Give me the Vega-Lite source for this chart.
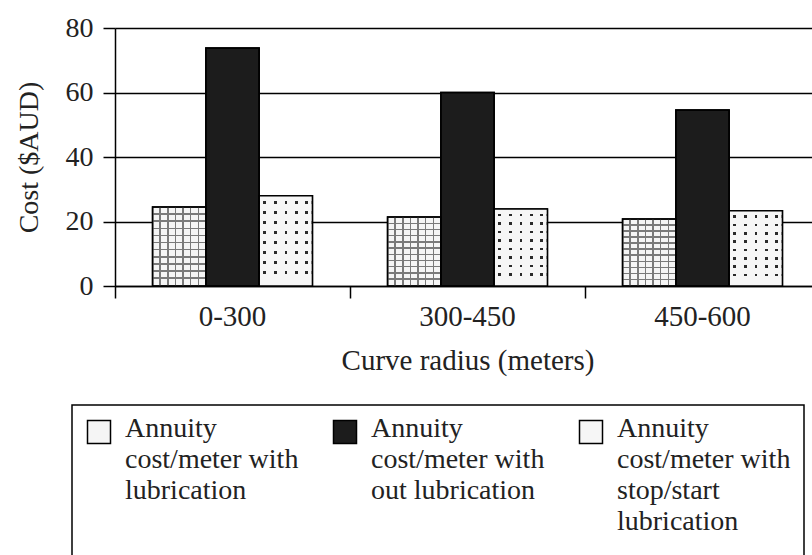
{
  "$schema": "https://vega.github.io/schema/vega-lite/v6.json",
  "autosize": "none",
  "padding": {"left": 115, "top": 28, "right": 0, "bottom": 270},
  "width": 705,
  "height": 258,
  "config": {
    "view": {"stroke": null},
    "font": "Liberation Serif",
    "axis": {
      "labelFont": "Liberation Serif",
      "titleFont": "Liberation Serif",
      "labelColor": "#222",
      "titleColor": "#222",
      "titleFontWeight": "normal",
      "domainColor": "black",
      "domainWidth": 1.5,
      "tickColor": "black",
      "tickWidth": 1.5,
      "tickSize": 12
    },
    "legend": {
      "labelFont": "Liberation Serif"
    }
  },
  "data": {
    "values": [
      {"radius": "0-300", "series": "Annuity|cost/meter with|lubrication", "cost": 24.5},
      {"radius": "0-300", "series": "Annuity|cost/meter with|out lubrication", "cost": 73.8},
      {"radius": "0-300", "series": "Annuity|cost/meter with|stop/start|lubrication", "cost": 28.0},
      {"radius": "300-450", "series": "Annuity|cost/meter with|lubrication", "cost": 21.4},
      {"radius": "300-450", "series": "Annuity|cost/meter with|out lubrication", "cost": 60.0},
      {"radius": "300-450", "series": "Annuity|cost/meter with|stop/start|lubrication", "cost": 23.9},
      {"radius": "450-600", "series": "Annuity|cost/meter with|lubrication", "cost": 20.8},
      {"radius": "450-600", "series": "Annuity|cost/meter with|out lubrication", "cost": 54.6},
      {"radius": "450-600", "series": "Annuity|cost/meter with|stop/start|lubrication", "cost": 23.3}
    ]
  },
  "encoding": {
    "x": {
      "field": "radius",
      "type": "nominal",
      "sort": ["0-300", "300-450", "450-600"],
      "scale": {"paddingInner": 0, "paddingOuter": 0},
      "axis": {
        "title": "Curve radius (meters)",
        "labelAngle": 0,
        "labelFontSize": 29,
        "titleFontSize": 29,
        "labelPadding": 4,
        "titlePadding": 15,
        "bandPosition": 0,
        "grid": false
      }
    },
    "xOffset": {
      "field": "series",
      "type": "nominal",
      "sort": ["Annuity|cost/meter with|lubrication", "Annuity|cost/meter with|out lubrication", "Annuity|cost/meter with|stop/start|lubrication"],
      "scale": {"paddingInner": 0, "paddingOuter": 0.705}
    },
    "y": {
      "field": "cost",
      "type": "quantitative",
      "scale": {"domain": [0, 80], "nice": false},
      "axis": {
        "title": "Cost ($AUD)",
        "values": [0, 20, 40, 60, 80],
        "labelFontSize": 28,
        "titleFontSize": 28,
        "labelPadding": 10,
        "titlePadding": 22,
        "grid": true,
        "gridColor": "black",
        "gridWidth": 1.5,
        "gridOpacity": 1
      }
    }
  },
  "layer": [
    {
      "mark": {"type": "bar", "stroke": "black", "strokeWidth": 1.5, "opacity": 1},
      "encoding": {
        "color": {
          "field": "series",
          "type": "nominal",
          "sort": ["Annuity|cost/meter with|lubrication", "Annuity|cost/meter with|out lubrication", "Annuity|cost/meter with|stop/start|lubrication"],
          "scale": {"range": ["#f5f5f5", "#1c1c1c", "#f6f6f6"]},
          "legend": {
            "title": null,
            "orient": "none",
            "legendX": -43,
            "legendY": 377,
            "direction": "horizontal",
            "columns": 3,
            "columnPadding": 31,
            "padding": 13,
            "strokeColor": "black",
            "symbolType": "square",
            "symbolSize": 529,
            "symbolStrokeColor": "black",
            "symbolStrokeWidth": 1.5,
            "symbolOpacity": 1,
            "labelFontSize": 28,
            "labelColor": "#222",
            "labelOffset": 12,
            "labelLimit": 500,
            "labelBaseline": "top",
            "labelExpr": "split(datum.label + (length(split(datum.label, '|')) < 4 ? '| | ' : '|\u00a0\u00a0\u00a0\u00a0\u00a0\u00a0\u00a0\u00a0\u00a0\u00a0\u00a0\u00a0\u00a0\u00a0\u00a0\u00a0\u00a0\u00a0\u00a0\u00a0\u00a0\u00a0\u00a0\u00a0\u00a0\u00a0\u00a0\u00a0\u00a0\u00a0\u00a0\u00a0\u00a0\u00a0'), '|')",
            "encode": {
              "legend": {"update": {"strokeWidth": {"value": 1.5}}},
              "labels": {"update": {"dy": {"value": -17}, "lineHeight": {"value": 31}}}
            }
          }
        }
      }
    },
    {
      "transform": [{"filter": "datum.series == 'Annuity|cost/meter with|lubrication'"}],
      "mark": {
        "type": "bar",
        "strokeWidth": 0,
        "fill": {
          "gradient": "linear", "x1": 0, "y1": 0, "x2": 1, "y2": 0,
          "stops": [
            {"offset": 0, "color": "rgba(0,0,0,0)"},
            {"offset": 0.129, "color": "rgba(0,0,0,0)"}, {"offset": 0.129, "color": "#7a7a7a"}, {"offset": 0.157, "color": "#7a7a7a"}, {"offset": 0.157, "color": "rgba(0,0,0,0)"},
            {"offset": 0.272, "color": "rgba(0,0,0,0)"}, {"offset": 0.272, "color": "#7a7a7a"}, {"offset": 0.3, "color": "#7a7a7a"}, {"offset": 0.3, "color": "rgba(0,0,0,0)"},
            {"offset": 0.415, "color": "rgba(0,0,0,0)"}, {"offset": 0.415, "color": "#7a7a7a"}, {"offset": 0.443, "color": "#7a7a7a"}, {"offset": 0.443, "color": "rgba(0,0,0,0)"},
            {"offset": 0.558, "color": "rgba(0,0,0,0)"}, {"offset": 0.558, "color": "#7a7a7a"}, {"offset": 0.586, "color": "#7a7a7a"}, {"offset": 0.586, "color": "rgba(0,0,0,0)"},
            {"offset": 0.701, "color": "rgba(0,0,0,0)"}, {"offset": 0.701, "color": "#7a7a7a"}, {"offset": 0.729, "color": "#7a7a7a"}, {"offset": 0.729, "color": "rgba(0,0,0,0)"},
            {"offset": 0.844, "color": "rgba(0,0,0,0)"}, {"offset": 0.844, "color": "#7a7a7a"}, {"offset": 0.872, "color": "#7a7a7a"}, {"offset": 0.872, "color": "rgba(0,0,0,0)"},
            {"offset": 1, "color": "rgba(0,0,0,0)"}
          ]
        }
      },
      "encoding": {}
    },
    {
      "transform": [{"filter": "datum.series == 'Annuity|cost/meter with|lubrication'"}],
      "mark": {
        "type": "bar",
        "strokeWidth": 0,
        "fill": {
          "gradient": "linear", "x1": 0, "y1": 0, "x2": 0, "y2": 1,
          "stops": [
            {"offset": 0, "color": "rgba(0,0,0,0)"},
            {"offset": 0.08, "color": "rgba(0,0,0,0)"}, {"offset": 0.08, "color": "#7a7a7a"}, {"offset": 0.1, "color": "#7a7a7a"}, {"offset": 0.1, "color": "rgba(0,0,0,0)"},
            {"offset": 0.17, "color": "rgba(0,0,0,0)"}, {"offset": 0.17, "color": "#7a7a7a"}, {"offset": 0.19, "color": "#7a7a7a"}, {"offset": 0.19, "color": "rgba(0,0,0,0)"},
            {"offset": 0.26, "color": "rgba(0,0,0,0)"}, {"offset": 0.26, "color": "#7a7a7a"}, {"offset": 0.28, "color": "#7a7a7a"}, {"offset": 0.28, "color": "rgba(0,0,0,0)"},
            {"offset": 0.35, "color": "rgba(0,0,0,0)"}, {"offset": 0.35, "color": "#7a7a7a"}, {"offset": 0.37, "color": "#7a7a7a"}, {"offset": 0.37, "color": "rgba(0,0,0,0)"},
            {"offset": 0.44, "color": "rgba(0,0,0,0)"}, {"offset": 0.44, "color": "#7a7a7a"}, {"offset": 0.46, "color": "#7a7a7a"}, {"offset": 0.46, "color": "rgba(0,0,0,0)"},
            {"offset": 0.53, "color": "rgba(0,0,0,0)"}, {"offset": 0.53, "color": "#7a7a7a"}, {"offset": 0.55, "color": "#7a7a7a"}, {"offset": 0.55, "color": "rgba(0,0,0,0)"},
            {"offset": 0.62, "color": "rgba(0,0,0,0)"}, {"offset": 0.62, "color": "#7a7a7a"}, {"offset": 0.64, "color": "#7a7a7a"}, {"offset": 0.64, "color": "rgba(0,0,0,0)"},
            {"offset": 0.71, "color": "rgba(0,0,0,0)"}, {"offset": 0.71, "color": "#7a7a7a"}, {"offset": 0.73, "color": "#7a7a7a"}, {"offset": 0.73, "color": "rgba(0,0,0,0)"},
            {"offset": 0.8, "color": "rgba(0,0,0,0)"}, {"offset": 0.8, "color": "#7a7a7a"}, {"offset": 0.82, "color": "#7a7a7a"}, {"offset": 0.82, "color": "rgba(0,0,0,0)"},
            {"offset": 0.89, "color": "rgba(0,0,0,0)"}, {"offset": 0.89, "color": "#7a7a7a"}, {"offset": 0.91, "color": "#7a7a7a"}, {"offset": 0.91, "color": "rgba(0,0,0,0)"},
            {"offset": 1, "color": "rgba(0,0,0,0)"}
          ]
        }
      },
      "encoding": {}
    },
    {
      "transform": [{"filter": "datum.series == 'Annuity|cost/meter with|stop/start|lubrication'"}],
      "mark": {
        "type": "bar",
        "strokeWidth": 0,
        "fill": {
          "gradient": "linear", "x1": 0, "y1": 0, "x2": 1, "y2": 0,
          "stops": [
            {"offset": 0, "color": "rgba(0,0,0,0)"},
            {"offset": 0.08, "color": "rgba(0,0,0,0)"}, {"offset": 0.08, "color": "#2a2a2a"}, {"offset": 0.13, "color": "#2a2a2a"}, {"offset": 0.13, "color": "rgba(0,0,0,0)"},
            {"offset": 0.28, "color": "rgba(0,0,0,0)"}, {"offset": 0.28, "color": "#2a2a2a"}, {"offset": 0.33, "color": "#2a2a2a"}, {"offset": 0.33, "color": "rgba(0,0,0,0)"},
            {"offset": 0.48, "color": "rgba(0,0,0,0)"}, {"offset": 0.48, "color": "#2a2a2a"}, {"offset": 0.53, "color": "#2a2a2a"}, {"offset": 0.53, "color": "rgba(0,0,0,0)"},
            {"offset": 0.68, "color": "rgba(0,0,0,0)"}, {"offset": 0.68, "color": "#2a2a2a"}, {"offset": 0.73, "color": "#2a2a2a"}, {"offset": 0.73, "color": "rgba(0,0,0,0)"},
            {"offset": 0.86, "color": "rgba(0,0,0,0)"}, {"offset": 0.86, "color": "#2a2a2a"}, {"offset": 0.91, "color": "#2a2a2a"}, {"offset": 0.91, "color": "rgba(0,0,0,0)"},
            {"offset": 1, "color": "rgba(0,0,0,0)"}
          ]
        }
      },
      "encoding": {}
    },
    {
      "transform": [{"filter": "datum.series == 'Annuity|cost/meter with|stop/start|lubrication'"}],
      "mark": {
        "type": "bar",
        "strokeWidth": 0,
        "fill": {
          "gradient": "linear", "x1": 0, "y1": 0, "x2": 0, "y2": 1,
          "stops": [
            {"offset": 0, "color": "#f6f6f6"},
            {"offset": 0.06, "color": "#f6f6f6"}, {"offset": 0.06, "color": "rgba(0,0,0,0)"}, {"offset": 0.093, "color": "rgba(0,0,0,0)"}, {"offset": 0.093, "color": "#f6f6f6"},
            {"offset": 0.171, "color": "#f6f6f6"}, {"offset": 0.171, "color": "rgba(0,0,0,0)"}, {"offset": 0.204, "color": "rgba(0,0,0,0)"}, {"offset": 0.204, "color": "#f6f6f6"},
            {"offset": 0.282, "color": "#f6f6f6"}, {"offset": 0.282, "color": "rgba(0,0,0,0)"}, {"offset": 0.315, "color": "rgba(0,0,0,0)"}, {"offset": 0.315, "color": "#f6f6f6"},
            {"offset": 0.393, "color": "#f6f6f6"}, {"offset": 0.393, "color": "rgba(0,0,0,0)"}, {"offset": 0.426, "color": "rgba(0,0,0,0)"}, {"offset": 0.426, "color": "#f6f6f6"},
            {"offset": 0.504, "color": "#f6f6f6"}, {"offset": 0.504, "color": "rgba(0,0,0,0)"}, {"offset": 0.537, "color": "rgba(0,0,0,0)"}, {"offset": 0.537, "color": "#f6f6f6"},
            {"offset": 0.615, "color": "#f6f6f6"}, {"offset": 0.615, "color": "rgba(0,0,0,0)"}, {"offset": 0.648, "color": "rgba(0,0,0,0)"}, {"offset": 0.648, "color": "#f6f6f6"},
            {"offset": 0.726, "color": "#f6f6f6"}, {"offset": 0.726, "color": "rgba(0,0,0,0)"}, {"offset": 0.759, "color": "rgba(0,0,0,0)"}, {"offset": 0.759, "color": "#f6f6f6"},
            {"offset": 0.837, "color": "#f6f6f6"}, {"offset": 0.837, "color": "rgba(0,0,0,0)"}, {"offset": 0.87, "color": "rgba(0,0,0,0)"}, {"offset": 0.87, "color": "#f6f6f6"},
            {"offset": 1, "color": "#f6f6f6"}
          ]
        }
      },
      "encoding": {}
    },
    {
      "mark": {"type": "bar", "fill": "transparent", "stroke": "black", "strokeWidth": 1.5},
      "encoding": {}
    }
  ]
}
